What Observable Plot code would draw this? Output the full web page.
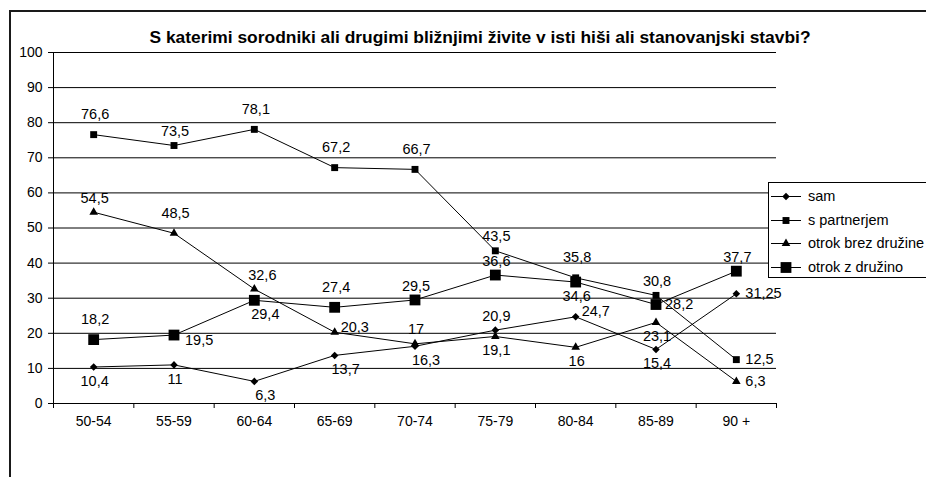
<!DOCTYPE html>
<html>
<head>
<meta charset="utf-8">
<script src="https://cdn.jsdelivr.net/npm/d3@7"></script>
<script src="https://cdn.jsdelivr.net/npm/@observablehq/plot@0.6"></script>
<style>
  html, body { margin: 0; padding: 0; background: #fff; }
  #wrap { position: relative; width: 926px; height: 477px; overflow: hidden; background: #fff;
          font-family: "Liberation Sans", Arial, sans-serif; color: #000; }
  #frame { position: absolute; left: 9px; top: 10px; width: 1200px; height: 1200px; border: 2px solid #1a1a1a; box-sizing: border-box; }
  #chart { position: absolute; left: 0; top: 0; }
  #title { position: absolute; left: 0; width: 960px; top: 26px; text-align: center; font-weight: bold; font-size: 17.4px; line-height: 22px; white-space: nowrap; }
  #legend { position: absolute; left: 768px; top: 182px; width: 200px; height: 96px; border: 1px solid #000; background: #fff; box-sizing: border-box; }
  .lrow { position: absolute; left: 0; height: 24px; width: 200px; }
  .lrow svg { position: absolute; left: 1px; top: 0; }
  .lrow span { position: absolute; left: 39px; top: 3px; font-size: 14.5px; line-height: 18px; white-space: nowrap; }
</style>
</head>
<body>
<div id="wrap">
  <div id="frame"></div>
  <div id="chart"></div>
  <div id="title">S katerimi sorodniki ali drugimi bližnjimi živite v isti hiši ali stanovanjski stavbi?</div>
  <div id="legend"></div>
</div>
<script>
// ---- data ----
const categories = ["50-54", "55-59", "60-64", "65-69", "70-74", "75-79", "80-84", "85-89", "90 +"];
const seriesNames = ["sam", "s partnerjem", "otrok brez družine", "otrok z družino"];
const sam = [10.4, 11, 6.3, 13.7, 16.3, 20.9, 24.7, 15.4, 31.25];
const sPartnerjem = [76.6, 73.5, 78.1, 67.2, 66.7, 43.5, 35.8, 30.8, 12.5];
const otrokBrezDruzine = [54.5, 48.5, 32.6, 20.3, 17, 19.1, 16, 23.1, 6.3];
const otrokZDruzino = [18.2, 19.5, 29.4, 27.4, 29.5, 36.6, 34.6, 28.2, 37.7];
const yTicks = [0, 10, 20, 30, 40, 50, 60, 70, 80, 90, 100];

// label placement codes (t = above, T = further above, b = below, r = right ...)
const samLabelPos = ["b", "b", "br", "br", "br", "t", "ru", "b", "r"];
const sPartnerjemLabelPos = ["T", "t", "T", "T", "T", "t", "T", "t", "r"];
const otrokBrezDruzineLabelPos = ["t", "T", "tr", "ru", "t", "b", "b", "b", "r"];
const otrokZDruzinoLabelPos = ["T", "rd", "br", "T", "t", "t", "b", "r", "t"];

// ---- styles ----
const seriesValues = [sam, sPartnerjem, otrokBrezDruzine, otrokZDruzino];
const seriesLabelPos = [samLabelPos, sPartnerjemLabelPos, otrokBrezDruzineLabelPos, otrokZDruzinoLabelPos];
const seriesSymbol = ["diamond2", "square", "triangle", "square"];
const seriesR = [3.4, 3.9, 3.2, 6.1];
const placements = {
  t:  {dx: 1,  dy: -14, textAnchor: "middle"},
  T:  {dx: 1.5, dy: -20, textAnchor: "middle"},
  tr: {dx: 8,  dy: -14, textAnchor: "middle"},
  b:  {dx: 1,  dy: 14,  textAnchor: "middle"},
  br: {dx: 11, dy: 14,  textAnchor: "middle"},
  r:  {dx: 9,  dy: 0,   textAnchor: "start"},
  ru: {dx: 6,  dy: -5,  textAnchor: "start"},
  rd: {dx: 11, dy: 5,   textAnchor: "start"}
};

const rows = [];
seriesNames.forEach((name, s) => {
  seriesValues[s].forEach((v, i) => {
    rows.push({series: name, s, i, value: v, pos: seriesLabelPos[s][i]});
  });
});
const fmt = v => String(v).replace(".", ",");

const marks = [];
// gridlines
marks.push(Plot.ruleY(yTicks.filter(d => d > 0), {stroke: "#000", strokeWidth: 1}));
// axes lines
marks.push(Plot.ruleY([0], {stroke: "#000"}));
marks.push(Plot.ruleX([-0.5], {stroke: "#000"}));
// y axis
marks.push(Plot.axisY(yTicks, {tickSize: 5, tickPadding: 6, fontSize: 14, label: null, stroke: "#000", fill: "#000"}));
// x axis: boundary ticks and category labels
marks.push(Plot.axisX(d3.range(-0.5, categories.length, 1), {tickSize: 5, tickFormat: () => "", label: null, stroke: "#000"}));
marks.push(Plot.axisX(d3.range(categories.length), {tickSize: 0, tickPadding: 13, tickFormat: i => categories[i], fontSize: 14, label: null, fill: "#000"}));
// series
seriesNames.forEach((name, s) => {
  const d = rows.filter(r => r.s === s);
  marks.push(Plot.line(d, {x: "i", y: "value", stroke: "#000", strokeWidth: 1}));
  marks.push(Plot.dot(d, {x: "i", y: "value", symbol: seriesSymbol[s], r: seriesR[s], fill: "#000", stroke: "none"}));
});
// data labels
Object.entries(placements).forEach(([code, p]) => {
  marks.push(Plot.text(rows.filter(r => r.pos === code), {
    x: "i", y: "value", text: d => fmt(d.value),
    dx: p.dx, dy: p.dy, textAnchor: p.textAnchor, fontSize: 14.5, fill: "#000"
  }));
});

const chart = Plot.plot({
  width: 926,
  height: 477,
  marginLeft: 53,
  marginRight: 150,
  marginTop: 52,
  marginBottom: 74,
  x: {type: "linear", domain: [-0.5, categories.length - 0.5]},
  y: {domain: [0, 100]},
  style: {fontFamily: "'Liberation Sans', Arial, sans-serif", fontSize: "14px", background: "transparent", color: "#000"},
  marks
});
document.getElementById("chart").appendChild(chart);

// legend
const legend = document.getElementById("legend");
seriesNames.forEach((name, s) => {
  const row = document.createElement("div");
  row.className = "lrow";
  row.style.top = (1 + s * 23.5) + "px";
  const r = seriesR[s];
  const symType = {diamond2: d3.symbolDiamond2, square: d3.symbolSquare, triangle: d3.symbolTriangle}[seriesSymbol[s]];
  const path = d3.symbol(symType, Math.PI * r * r)();
  row.innerHTML = `<svg width="34" height="24"><line x1="1" x2="31" y1="12.5" y2="12.5" stroke="#000" stroke-width="1"/><path d="${path}" transform="translate(16,12.5)" fill="#000"/></svg><span>${name}</span>`;
  legend.appendChild(row);
});
</script>
</body>
</html>
